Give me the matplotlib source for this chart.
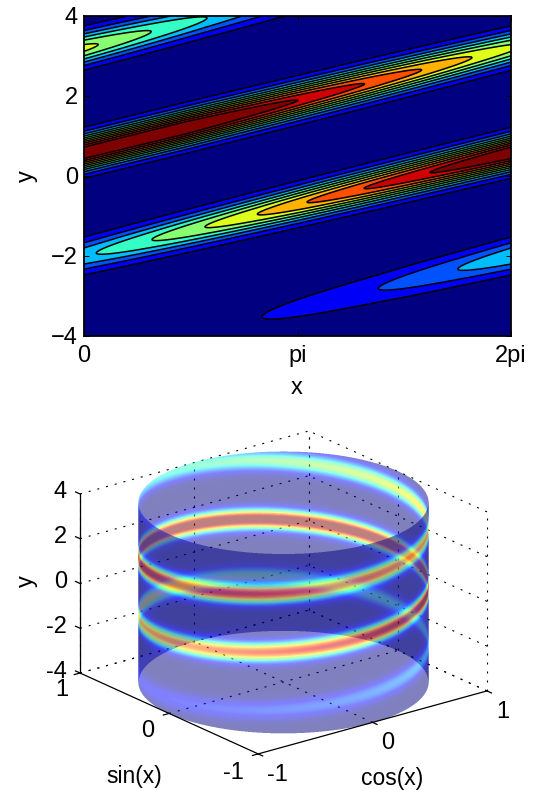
import numpy as np
import matplotlib
matplotlib.use('Agg')
import matplotlib.pyplot as plt
from mpl_toolkits.mplot3d import proj3d

plt.rcParams['font.family'] = ['Liberation Sans', 'DejaVu Sans']
W, H = 536, 790
TWO_PI = 2 * np.pi
FONT = 17
ELEV, AZIM = 20.7, -127.9
SS = 3  # oversampling of the cylinder walls

# ridge, followed through its turns around x
# x positions where each contour level ends on the ridge, per turn
turn0_x = [0.0, 2.62, 4.33, 5.50]
turn0_peak = [0.02, 0.1, 0.2, 0.3]
turn1_x = [0.18, 1.00, 1.78, 2.55, 3.28, 4.12, 5.09, 6.28]
turn1_peak = [0.4, 0.5, 0.6, 0.7, 0.8, 0.9, 1.0, 1.13]
turn2_x = [1.50, 3.15, 4.13, 4.97, 5.71]
turn2_peak = [1.15, 1.0, 0.9, 0.8, 0.7]
turn3_x = [0.21, 0.99, 1.81, 2.85, 3.80, 5.00]
turn3_peak = [0.6, 0.5, 0.4, 0.3, 0.2, 0.1]

# centre of the ridge (y) at the start of each turn
center_t = [0.0, 3.03, TWO_PI, 2 * TWO_PI, 3 * TWO_PI, 4 * TWO_PI]
center_y = [-4.60, -3.35, -2.00, 0.58, 3.20, 5.80]
ridge_width = 0.41

contour_levels = [0.1, 0.2, 0.3, 0.4, 0.5, 0.6, 0.7, 0.8, 0.9, 1.0]
top_xticks = [0, np.pi, TWO_PI]
top_xlabels = ['0', 'pi', '2pi']
top_yticks = [-4, -2, 0, 2, 4]
top_ylabels = ['\u22124', '\u22122', '0', '2', '4']

unit_ticks = [-1, 0, 1]
unit_labels = ['-1', '0', '1']
height_ticks = [-4, -2, 0, 2, 4]
height_labels = ['-4', '-2', '0', '2', '4']

peak_t = np.concatenate([np.array(turn0_x), np.array(turn1_x) + TWO_PI,
                         np.array(turn2_x) + 2 * TWO_PI, np.array(turn3_x) + 3 * TWO_PI])
peak_z = np.concatenate([turn0_peak, turn1_peak, turn2_peak, turn3_peak])


def ridge_field(x, y):
    z = np.zeros_like(x)
    for k in range(4):
        t = x + k * TWO_PI
        z += np.interp(t, peak_t, peak_z) * np.exp(-((y - np.interp(t, center_t, center_y)) / ridge_width) ** 2)
    return z


def put_text(px, py, s, **kw):
    kw.setdefault('fontsize', FONT)
    fig.text(px / W, 1 - py / H, s, ha='center', va='center', **kw)


def corner_px(a3, x, y, z):
    a3.apply_aspect()
    u, v, _ = proj3d.proj_transform(x, y, z, a3.get_proj())
    return a3.transData.transform((u, v))


def box_axes(f, scale=1, **kw):
    # 3d axes whose box sits on the corners seen in the reference
    a3 = f.add_axes([0, 0, 0.5, 0.5], projection='3d', computed_zorder=False, **kw)
    a3.set_proj_type('ortho')
    a3.view_init(elev=ELEV, azim=AZIM)
    a3.set_xlim(-1, 1)
    a3.set_ylim(-1, 1)
    a3.set_zlim(-4, 4)
    a3.set_box_aspect((1, 1, 0.66))
    a3.set_axis_off()
    a3.patch.set_alpha(0)
    size = 268.0
    a3.set_position([0, 0, size / W, size / H])
    span = corner_px(a3, 1, -1, -4)[0] - corner_px(a3, -1, 1, -4)[0]
    size = size * (487 - 80) * scale / span
    a3.set_position([0, 0, size / W, size / H])
    p = corner_px(a3, -1, 1, -4)
    a3.set_position([(80 * scale - p[0]) / (W * scale), ((H - 673) * scale - p[1]) / (H * scale),
                     size / W, size / H])
    return a3


def wall_layer(t_start):
    # one half of the cylinder, opaque, so the mesh leaves no seams in it
    f = plt.figure(figsize=(W / 100, H / 100), dpi=100 * SS)
    f.patch.set_alpha(0)
    a3 = box_axes(f, scale=SS)
    tg, yg2 = np.meshgrid(np.linspace(t_start, t_start + np.pi, 181), np.linspace(-4, 4, 221))
    zz = ridge_field(np.mod(tg, TWO_PI), yg2)
    face = plt.cm.jet(np.clip(0.5 * (zz[:-1, :-1] + zz[1:, 1:]), 0, 1))
    a3.plot_surface(np.cos(tg), np.sin(tg), yg2, facecolors=face, rstride=1, cstride=1,
                    shade=False, linewidth=0, antialiased=False)
    f.canvas.draw()
    buf = np.asarray(f.canvas.buffer_rgba()).astype(float) / 255
    plt.close(f)
    buf = buf[:H * SS, :W * SS]
    a = buf[..., 3:]
    small_a = (a.reshape(H, SS, W, SS, 1)).mean(axis=(1, 3))
    small_rgb = (buf[..., :3] * a).reshape(H, SS, W, SS, 3).mean(axis=(1, 3)) / np.maximum(small_a, 1e-6)
    return np.dstack([small_rgb, small_a * 0.5])


fig = plt.figure(figsize=(W / 100, H / 100), dpi=100)

# top panel
ax = fig.add_axes([84 / W, 1 - 336 / H, 427 / W, 320 / H])
xg, yg = np.meshgrid(np.linspace(0, TWO_PI, 600), np.linspace(-4, 4, 500))
zg = ridge_field(xg, yg)
fill_levels = [-1] + contour_levels + [2]
fill_colors = [plt.cm.jet(0.0)] + [plt.cm.jet(v / 0.97) for v in contour_levels]
ax.contourf(xg, yg, zg, levels=fill_levels, colors=fill_colors)
ax.contour(xg, yg, zg, levels=contour_levels, colors='k', linewidths=1.1)
ax.set_xlim(0, TWO_PI)
ax.set_ylim(-4, 4)
ax.set_xticks(top_xticks)
ax.set_yticks(top_yticks)
ax.set_xticklabels([])
ax.set_yticklabels([])
ax.tick_params(direction='in', top=True, right=True, length=3.5, width=0.7)
for s in ax.spines.values():
    s.set_linewidth(1.3)
for tick, lab in zip(top_xticks, top_xlabels):
    put_text(84 + tick / TWO_PI * 427, 356, lab)
for tick, lab in zip(top_yticks, top_ylabels):
    fig.text(78 / W, 1 - (176 - tick * 40 + 2) / H, lab, fontsize=FONT, ha='right', va='center')
put_text(297, 388, 'x')
put_text(27, 176, 'y', rotation=90)

# bottom panel: grid, back wall, front wall, axis lines
grid3 = box_axes(fig, zorder=0)
dot = dict(color='k', lw=0.8, ls=(0, (1.8, 6.3)))
for v in unit_ticks:
    grid3.plot([v, v], [1, 1], [-4, 4], **dot)
    grid3.plot([1, 1], [v, v], [-4, 4], **dot)
    if v > -1:
        grid3.plot([v, v], [-1, 1], [-4, -4], **dot)
        grid3.plot([-1, 1], [v, v], [-4, -4], **dot)
for v in height_ticks:
    grid3.plot([-1, 1], [1, 1], [v, v], **dot)
    grid3.plot([1, 1], [-1, 1], [v, v], **dot)

view = np.radians(AZIM)
fig.figimage(wall_layer(view + np.pi / 2), origin='upper', zorder=1, resize=False)
fig.figimage(wall_layer(view - np.pi / 2), origin='upper', zorder=2, resize=False)

axis3 = box_axes(fig, zorder=3)
solid = dict(color='k', lw=0.9)
axis3.plot([-1, -1], [1, 1], [-4, 4], **solid)
axis3.plot([-1, 1], [-1, -1], [-4, -4], **solid)
axis3.plot([-1, -1], [-1, 1], [-4, -4], **solid)
for v in unit_ticks:
    axis3.plot([v, v], [-1, -1.05], [-4, -4], **solid)
    axis3.plot([-1, -1.05], [v, v], [-4, -4], **solid)
for v in height_ticks:
    axis3.plot([-1, -1], [1, 1.05], [v, v], **solid)

x_label_px = [(277, 775), (388, 743), (503, 712)]
y_label_px = [(233, 773), (148, 731), (62, 690)]
for (px, py), lab in zip(x_label_px, unit_labels):
    put_text(px, py, lab)
for (px, py), lab in zip(y_label_px, unit_labels):
    put_text(px, py, lab)
for tick, lab in zip(height_ticks, height_labels):
    fig.text(67 / W, 1 - (583 - tick * 22.4 - 1) / H, lab, fontsize=FONT, ha='right', va='center')
put_text(134, 777, 'sin(x)', fontsize=16.5)
put_text(392, 778, 'cos(x)', fontsize=16.5)
put_text(27, 581, 'y', rotation=90)

fig.savefig('out.png', dpi=100)
